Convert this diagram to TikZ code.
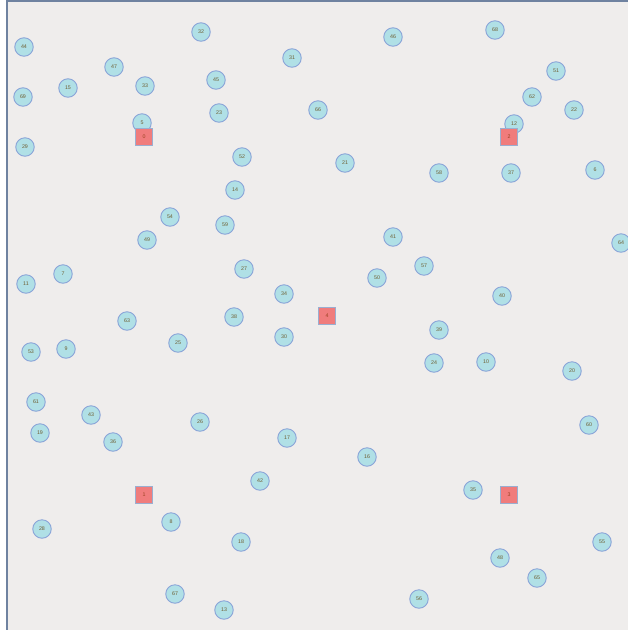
\documentclass[tikz,border=0pt]{standalone}
\usepackage{fontspec}
\setsansfont{Liberation Sans}
\usetikzlibrary{positioning}

\definecolor{panelbg}{HTML}{EFEDEC}
\definecolor{framecol}{HTML}{6F82A0}
\definecolor{sitefill}{HTML}{B0E0E6}
\definecolor{siteline}{HTML}{8AA4D8}
\definecolor{depotfill}{HTML}{F07C7C}
\definecolor{depotline}{HTML}{9AAED0}
\definecolor{labelcol}{HTML}{6E5E30}

\begin{document}
\begin{tikzpicture}[
    x=1pt, y=-1pt,
    site/.style={circle, draw=siteline, line width=0.9pt, fill=sitefill,
        minimum size=18.5pt, inner sep=0pt, text=labelcol,
        font=\fontsize{5.3}{6}\selectfont\sffamily},
    depot/.style={rectangle, draw=depotline, line width=0.9pt, fill=depotfill,
        minimum size=17.5pt, inner sep=0pt, text=labelcol!70!red,
        font=\fontsize{5.3}{6}\selectfont\sffamily}
]

%% Panel and frame
\useasboundingbox (0,0) rectangle (628,630);
\fill[panelbg] (7,1) rectangle (628,630);
\draw[framecol, line width=1.2pt] (7,630) -- (7,1) -- (628,1);

%% ── Sites, top band ─────────────────────────────────────────────
\node[site] (c44) at ( 24, 47) {44};
\node[site] (c32) at (201, 32) {32};
\node[site] (c46) at (393, 37) {46};
\node[site] (c68) at (495, 30) {68};
\node[site] (c47) at (114, 67) {47};
\node[site] (c31) at (292, 58) {31};
\node[site] (c51) at (556, 71) {51};
\node[site] (c69) at ( 23, 97) {69};
\node[site] (c15) at ( 68, 88) {15};
\node[site] (c33) at (145, 86) {33};
\node[site] (c45) at (216, 80) {45};
\node[site] (c62) at (532, 97) {62};
\node[site] (c22) at (574,110) {22};
\node[site] (c5)  at (142,123) {5};
\node[site] (c23) at (219,113) {23};
\node[site] (c66) at (318,110) {66};
\node[site] (c12) at (514,124) {12};
\node[site] (c29) at ( 25,147) {29};
\node[site] (c52) at (242,157) {52};
\node[site] (c21) at (345,163) {21};
\node[site] (c58) at (439,173) {58};
\node[site] (c37) at (511,173) {37};
\node[site] (c6)  at (595,170) {6};
\node[site] (c14) at (235,190) {14};

%% ── Sites, middle band ──────────────────────────────────────────
\node[site] (c54) at (170,217) {54};
\node[site] (c59) at (225,225) {59};
\node[site] (c49) at (147,240) {49};
\node[site] (c41) at (393,237) {41};
\node[site] (c64) at (621,243) {64};
\node[site] (c7)  at ( 63,274) {7};
\node[site] (c27) at (244,269) {27};
\node[site] (c50) at (377,278) {50};
\node[site] (c57) at (424,266) {57};
\node[site] (c11) at ( 26,284) {11};
\node[site] (c34) at (284,294) {34};
\node[site] (c40) at (502,296) {40};
\node[site] (c63) at (127,321) {63};
\node[site] (c38) at (234,317) {38};
\node[site] (c30) at (284,337) {30};
\node[site] (c39) at (439,330) {39};
\node[site] (c25) at (178,343) {25};
\node[site] (c53) at ( 31,352) {53};
\node[site] (c9)  at ( 66,349) {9};
\node[site] (c24) at (434,363) {24};
\node[site] (c10) at (486,362) {10};
\node[site] (c20) at (572,371) {20};

%% ── Sites, bottom band ──────────────────────────────────────────
\node[site] (c61) at ( 36,402) {61};
\node[site] (c43) at ( 91,415) {43};
\node[site] (c26) at (200,422) {26};
\node[site] (c60) at (589,425) {60};
\node[site] (c19) at ( 40,433) {19};
\node[site] (c36) at (113,442) {36};
\node[site] (c17) at (287,438) {17};
\node[site] (c16) at (367,457) {16};
\node[site] (c42) at (260,481) {42};
\node[site] (c35) at (473,490) {35};
\node[site] (c8)  at (171,522) {8};
\node[site] (c28) at ( 42,529) {28};
\node[site] (c18) at (241,542) {18};
\node[site] (c55) at (602,542) {55};
\node[site] (c48) at (500,558) {48};
\node[site] (c65) at (537,578) {65};
\node[site] (c67) at (175,594) {67};
\node[site] (c56) at (419,599) {56};
\node[site] (c13) at (224,610) {13};

%% Depots (drawn last, over the sites)
\node[depot] (d0) at (144,137) {0};
\node[depot] (d1) at (144,495) {1};
\node[depot] (d2) at (509,137) {2};
\node[depot] (d3) at (509,495) {3};
\node[depot] (d4) at (327,316) {4};

\end{tikzpicture}
\end{document}
